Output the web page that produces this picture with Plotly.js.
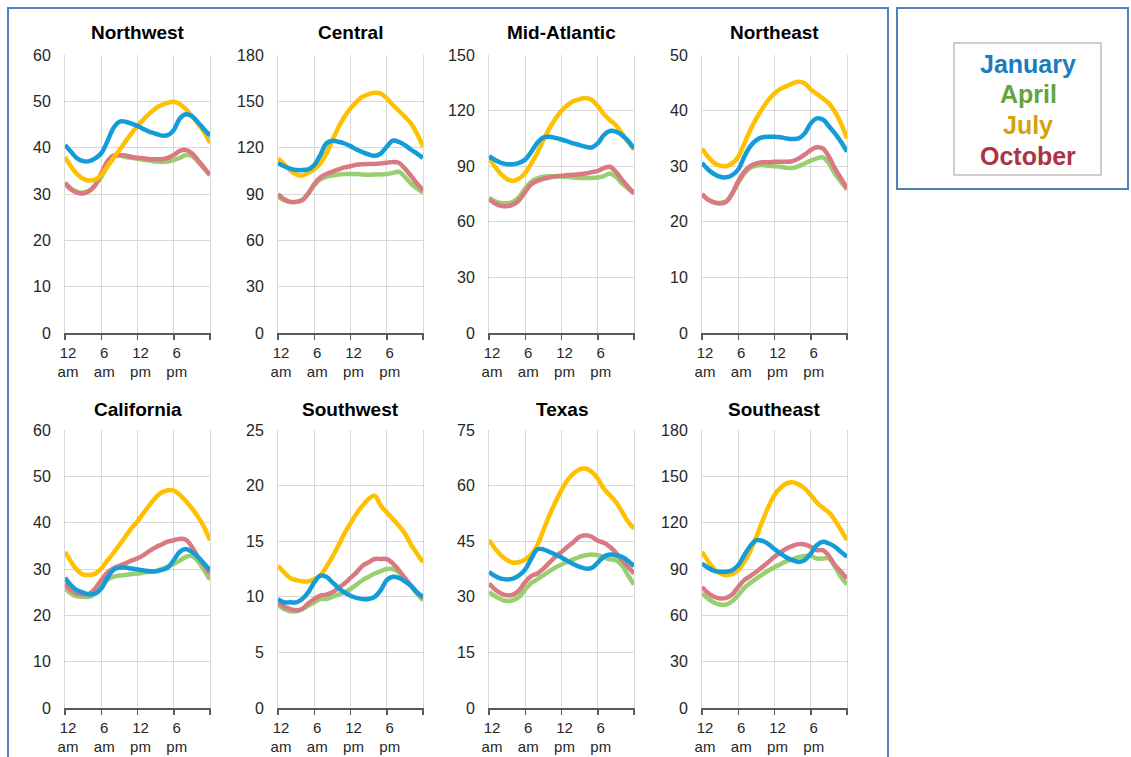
<!DOCTYPE html>
<html>
<head>
<meta charset="utf-8">
<script src="https://cdn.plot.ly/plotly-3.0.1.min.js"></script>
<style>
  html, body { margin: 0; padding: 0; background: #ffffff; }
  #chart { width: 1131px; height: 757px; }
</style>
</head>
<body>
<div id="chart"></div>
<script>
// ---------------- DATA ----------------
const hours = [0,1,2,3,4,5,6,7,8,9,10,11,12,13,14,15,16,17,18,19,20,21,22,23,24];
const tickHours = [0, 6, 12, 18, 24];
const tickLabels = ['12<br>am', '6<br>am', '12<br>pm', '6<br>pm', ''];
const months = ['January', 'April', 'July', 'October'];
const regions = ['Northwest', 'Central', 'Mid-Atlantic', 'Northeast', 'California', 'Southwest', 'Texas', 'Southeast'];
const yMax =  [60, 180, 150, 50, 60, 25, 75, 180];
const yStep = [10, 30, 30, 10, 10, 5, 15, 30];

const nwJan = [40.6,39.1,37.7,37.1,37.1,37.7,38.8,41.3,44.2,45.6,45.6,45.2,44.7,44.0,43.4,43.0,42.6,42.7,43.8,46.3,47.2,46.8,45.5,44.0,42.6];
const nwApr = [32.5,31.2,30.5,30.3,30.7,31.9,33.7,35.9,37.8,38.3,38.0,37.8,37.6,37.4,37.2,37.0,36.9,37.0,37.3,37.8,38.4,38.2,37.0,35.5,34.1];
const nwJul = [38.0,35.9,34.3,33.3,32.9,33.1,34.1,35.9,37.7,39.5,41.3,43.1,44.7,46.1,47.4,48.5,49.2,49.7,49.9,49.4,48.3,46.8,45.2,43.4,41.0];
const nwOct = [32.3,31.0,30.3,30.1,30.6,31.9,34.4,37.0,38.3,38.4,38.3,38.0,37.8,37.7,37.5,37.5,37.5,37.8,38.4,39.3,39.5,38.8,37.3,35.7,34.1];

const ceJan = [110.0,108.0,106.5,105.5,105.5,106.0,108.7,115.2,122.7,124.5,123.8,122.7,121.0,118.8,117.1,115.6,114.7,116.2,120.6,124.5,123.8,121.7,118.8,116.2,113.4];
const ceApr = [88.2,86.0,84.9,84.9,86.0,90.3,95.7,99.4,101.1,102.0,102.6,102.9,102.9,102.9,102.6,102.4,102.6,102.6,102.9,103.7,104.4,101.1,96.8,93.6,90.8];
const ceJul = [113.0,109.3,105.4,102.6,102.0,103.7,105.9,109.8,116.2,124.9,133.1,140.0,145.4,149.7,153.0,154.7,155.6,155.1,151.9,147.6,143.9,140.0,135.7,129.2,120.6];
const ceOct = [89.9,86.6,84.9,84.9,86.0,90.3,96.4,100.7,102.9,104.4,105.9,107.2,108.0,108.9,109.3,109.5,109.5,109.8,110.2,110.8,110.2,106.5,101.8,96.8,92.5];

const maJan = [95.4,93.3,91.8,91.1,91.1,91.8,93.6,97.8,102.6,105.5,105.9,105.3,104.4,103.4,102.3,101.4,100.5,100.1,102.3,106.8,109.0,108.6,106.8,103.7,99.6];
const maApr = [72.9,71.1,70.2,70.0,70.8,73.5,78.0,81.6,83.4,84.3,84.6,84.6,84.5,84.3,83.9,83.6,83.6,83.7,83.9,84.6,86.1,84.3,80.7,78.0,75.3];
const maJul = [94.5,89.7,85.7,83.0,82.1,83.4,86.4,91.5,97.2,104.1,110.4,115.6,119.9,123.0,125.0,126.2,126.8,125.7,122.5,118.1,114.9,112.2,107.7,103.2,99.0];
const maOct = [72.2,69.9,68.6,68.4,69.3,71.7,76.2,80.3,82.1,83.2,83.9,84.5,84.8,85.2,85.4,85.7,86.1,86.8,87.5,89.0,89.7,87.0,82.8,78.9,75.3];

const neJan = [30.6,29.4,28.6,28.1,28.0,28.4,29.4,31.7,33.6,34.7,35.2,35.3,35.3,35.2,35.0,34.9,35.0,35.9,37.7,38.6,38.4,37.2,35.9,34.4,32.6];
const neApr = [24.9,24.0,23.5,23.4,23.7,25.1,27.0,28.7,29.7,30.1,30.2,30.1,30.0,29.9,29.7,29.7,30.0,30.5,31.0,31.4,31.6,30.5,28.7,27.2,25.8];
const neJul = [33.2,31.7,30.6,30.1,30.0,30.5,31.7,34.1,36.5,38.6,40.4,41.9,43.1,43.9,44.4,44.9,45.2,44.9,43.8,43.0,42.2,41.3,39.8,37.7,35.0];
const neOct = [25.0,24.0,23.5,23.3,23.6,25.1,27.3,29.0,30.0,30.5,30.7,30.7,30.8,30.8,30.8,30.9,31.4,32.1,32.9,33.4,33.2,31.7,29.6,27.8,26.0];

const caJan = [28.1,26.5,25.4,24.9,24.5,24.7,25.8,28.0,29.8,30.3,30.3,30.1,29.9,29.7,29.5,29.5,29.8,30.3,31.9,33.7,34.3,33.7,32.6,31.2,29.8];
const caApr = [25.9,24.7,24.1,24.0,24.0,24.7,26.5,27.7,28.3,28.6,28.7,28.9,29.0,29.2,29.4,29.5,30.0,30.5,31.1,31.8,32.6,32.8,31.7,29.8,27.7];
const caJul = [33.7,31.6,29.8,28.8,28.7,29.0,30.1,31.8,33.4,35.2,37.0,38.8,40.3,42.1,43.8,45.4,46.5,47.0,46.9,46.0,44.7,43.1,41.3,39.1,36.2];
const caOct = [26.9,25.4,24.7,24.5,24.7,25.8,27.6,29.2,30.1,30.7,31.2,31.8,32.3,33.0,33.9,34.7,35.3,35.9,36.2,36.5,36.3,34.8,32.6,30.8,29.0];

const swJan = [9.8,9.5,9.5,9.5,9.8,10.4,11.3,11.9,11.8,11.3,10.8,10.4,10.1,9.9,9.8,9.8,10.0,10.6,11.5,11.8,11.7,11.4,11.0,10.4,10.0];
const swApr = [9.3,8.9,8.7,8.7,8.9,9.2,9.5,9.8,9.8,10.0,10.2,10.4,10.7,11.1,11.5,11.8,12.1,12.3,12.5,12.5,12.2,11.6,11.0,10.3,9.7];
const swJul = [12.8,12.2,11.7,11.5,11.4,11.4,11.6,11.9,12.7,13.6,14.6,15.7,16.6,17.5,18.2,18.8,19.1,18.2,17.6,17.0,16.4,15.7,14.7,13.9,13.1];
const swOct = [9.5,9.1,8.9,8.8,8.9,9.4,9.8,10.1,10.2,10.4,10.8,11.2,11.7,12.2,12.8,13.1,13.4,13.4,13.4,13.0,12.4,11.7,11.0,10.4,9.9];

const txJan = [36.7,35.6,34.9,34.7,34.9,35.8,37.4,40.3,42.8,42.8,42.1,41.4,40.6,39.7,38.8,38.1,37.6,37.8,39.2,40.8,41.4,41.2,40.8,39.7,38.3];
const txApr = [31.3,30.2,29.3,28.9,29.1,30.0,32.0,33.7,34.7,35.8,36.9,37.9,38.7,39.4,40.1,40.8,41.2,41.4,41.2,40.7,40.1,39.9,38.5,35.8,33.3];
const txJul = [45.3,43.0,41.2,39.9,39.2,39.4,40.1,41.4,43.9,48.0,52.0,55.6,58.8,61.5,63.3,64.4,64.6,63.7,61.9,59.2,57.4,55.6,53.0,50.3,48.4];
const txOct = [33.6,32.0,30.9,30.4,30.6,31.8,34.0,35.6,36.3,37.6,39.2,40.8,42.1,43.5,44.8,46.2,46.6,46.2,45.1,44.6,43.5,41.9,39.9,38.1,36.3];

const seJan = [93.6,90.8,88.8,88.2,88.2,89.2,92.5,99.0,105.0,108.7,108.2,106.1,102.9,100.0,97.5,95.7,94.6,95.7,100.0,105.4,107.6,106.5,104.4,101.1,97.9];
const seApr = [74.1,70.8,68.3,67.0,67.0,69.1,73.0,77.8,81.0,83.8,86.4,89.0,91.2,93.1,95.1,96.4,97.7,98.5,98.5,96.8,96.8,96.8,91.4,84.9,79.9];
const seJul = [101.1,95.1,89.9,87.1,86.0,86.6,89.2,94.6,101.6,110.8,121.0,130.3,137.9,142.6,145.4,146.1,144.8,142.2,137.9,133.1,129.6,126.6,121.6,115.2,108.7];
const seOct = [78.4,74.5,72.0,70.9,71.3,73.5,78.4,82.8,85.4,88.2,91.4,94.6,97.9,100.7,103.3,105.0,106.1,105.9,104.4,102.2,102.2,98.5,92.5,88.2,83.8];

// series per region in month order: January, April, July, October
const regionSeries = [
  [nwJan, nwApr, nwJul, nwOct],
  [ceJan, ceApr, ceJul, ceOct],
  [maJan, maApr, maJul, maOct],
  [neJan, neApr, neJul, neOct],
  [caJan, caApr, caJul, caOct],
  [swJan, swApr, swJul, swOct],
  [txJan, txApr, txJul, txOct],
  [seJan, seApr, seJul, seOct]
];

// ---------------- STYLE ----------------
const W = 1131, H = 757;
const lineColors = ['#139CD8', '#98CF70', '#FFC000', '#D97981'];
const legendColors = ['#1A7DBE', '#64A43C', '#D4A20B', '#AD3343'];
const drawOrder = [1, 3, 2, 0]; // April, October, July, January (on top)

const colLeft = [65, 278, 489, 702];
const plotW = 145;
const rowTop = [55, 430];
const plotH = 278;
const titleY = [33, 409];

const fx = px => px / W;
const fy = py => (H - py) / H;

const traces = [];
const layout = {
  width: W, height: H,
  margin: {l: 0, r: 0, t: 0, b: 0},
  paper_bgcolor: '#ffffff',
  plot_bgcolor: '#ffffff',
  showlegend: false,
  font: {family: 'Liberation Sans, Arial, sans-serif', color: '#262626'},
  annotations: [],
  shapes: []
};

regions.forEach((name, i) => {
  const row = Math.floor(i / 4), col = i % 4;
  const n = i === 0 ? '' : String(i + 1);
  const x0 = colLeft[col], y0 = rowTop[row];
  layout['xaxis' + n] = {
    domain: [fx(x0), fx(x0 + plotW)],
    anchor: 'y' + n,
    range: [0, 24],
    tickmode: 'array',
    tickvals: tickHours,
    ticktext: tickLabels,
    showgrid: true, gridcolor: '#D9D9D9', gridwidth: 1,
    showline: true, linecolor: '#595959', linewidth: 1.5,
    ticks: 'outside', ticklen: 5, tickwidth: 1.5, tickcolor: '#595959',
    zeroline: false,
    tickfont: {size: 15, color: '#262626'},
    ticklabelshift: 3,
    fixedrange: true
  };
  layout['yaxis' + n] = {
    domain: [fy(y0 + plotH), fy(y0)],
    anchor: 'x' + n,
    range: [0, yMax[i]],
    dtick: yStep[i], tick0: 0,
    showgrid: true, gridcolor: '#D9D9D9', gridwidth: 1,
    showline: true, mirror: true, linecolor: '#D9D9D9', linewidth: 1,
    zeroline: false,
    ticks: '',
    ticklabelstandoff: 10,
    tickfont: {size: 16, color: '#262626'},
    fixedrange: true
  };
  layout.annotations.push({
    xref: 'paper', yref: 'paper',
    x: fx(x0 + plotW / 2), y: fy(titleY[row]),
    xanchor: 'center', yanchor: 'middle',
    text: '<b>' + name + '</b>', showarrow: false,
    font: {size: 19, color: '#000000', family: 'Liberation Sans, Arial, sans-serif'}
  });
  drawOrder.forEach(m => {
    traces.push({
      type: 'scatter', mode: 'lines',
      x: hours, y: regionSeries[i][m],
      xaxis: 'x' + n, yaxis: 'y' + n,
      name: months[m],
      line: {color: lineColors[m], width: 4.5, shape: 'spline', smoothing: 1},
      hoverinfo: 'skip'
    });
  });
});

// outer frames
layout.shapes.push({type: 'rect', xref: 'paper', yref: 'paper',
  x0: fx(8), x1: fx(888), y0: fy(H + 10), y1: fy(8),
  line: {color: '#4F81BD', width: 2}, fillcolor: 'rgba(0,0,0,0)', layer: 'below'});
layout.shapes.push({type: 'rect', xref: 'paper', yref: 'paper',
  x0: fx(897), x1: fx(1128), y0: fy(189), y1: fy(8),
  line: {color: '#4F81BD', width: 2}, fillcolor: 'rgba(0,0,0,0)', layer: 'below'});
layout.shapes.push({type: 'rect', xref: 'paper', yref: 'paper',
  x0: fx(954), x1: fx(1101), y0: fy(175), y1: fy(43),
  line: {color: '#BFBFBF', width: 1.5}, fillcolor: 'rgba(0,0,0,0)', layer: 'below'});

// legend text
const legendY = [64, 94, 125, 156];
months.forEach((m, k) => {
  layout.annotations.push({
    xref: 'paper', yref: 'paper',
    x: fx(1028), y: fy(legendY[k]),
    xanchor: 'center', yanchor: 'middle',
    text: '<b>' + m + '</b>', showarrow: false,
    font: {size: 25, color: legendColors[k], family: 'Liberation Sans, Arial, sans-serif'}
  });
});

Plotly.newPlot('chart', traces, layout, {staticPlot: true, displayModeBar: false});
</script>
</body>
</html>
